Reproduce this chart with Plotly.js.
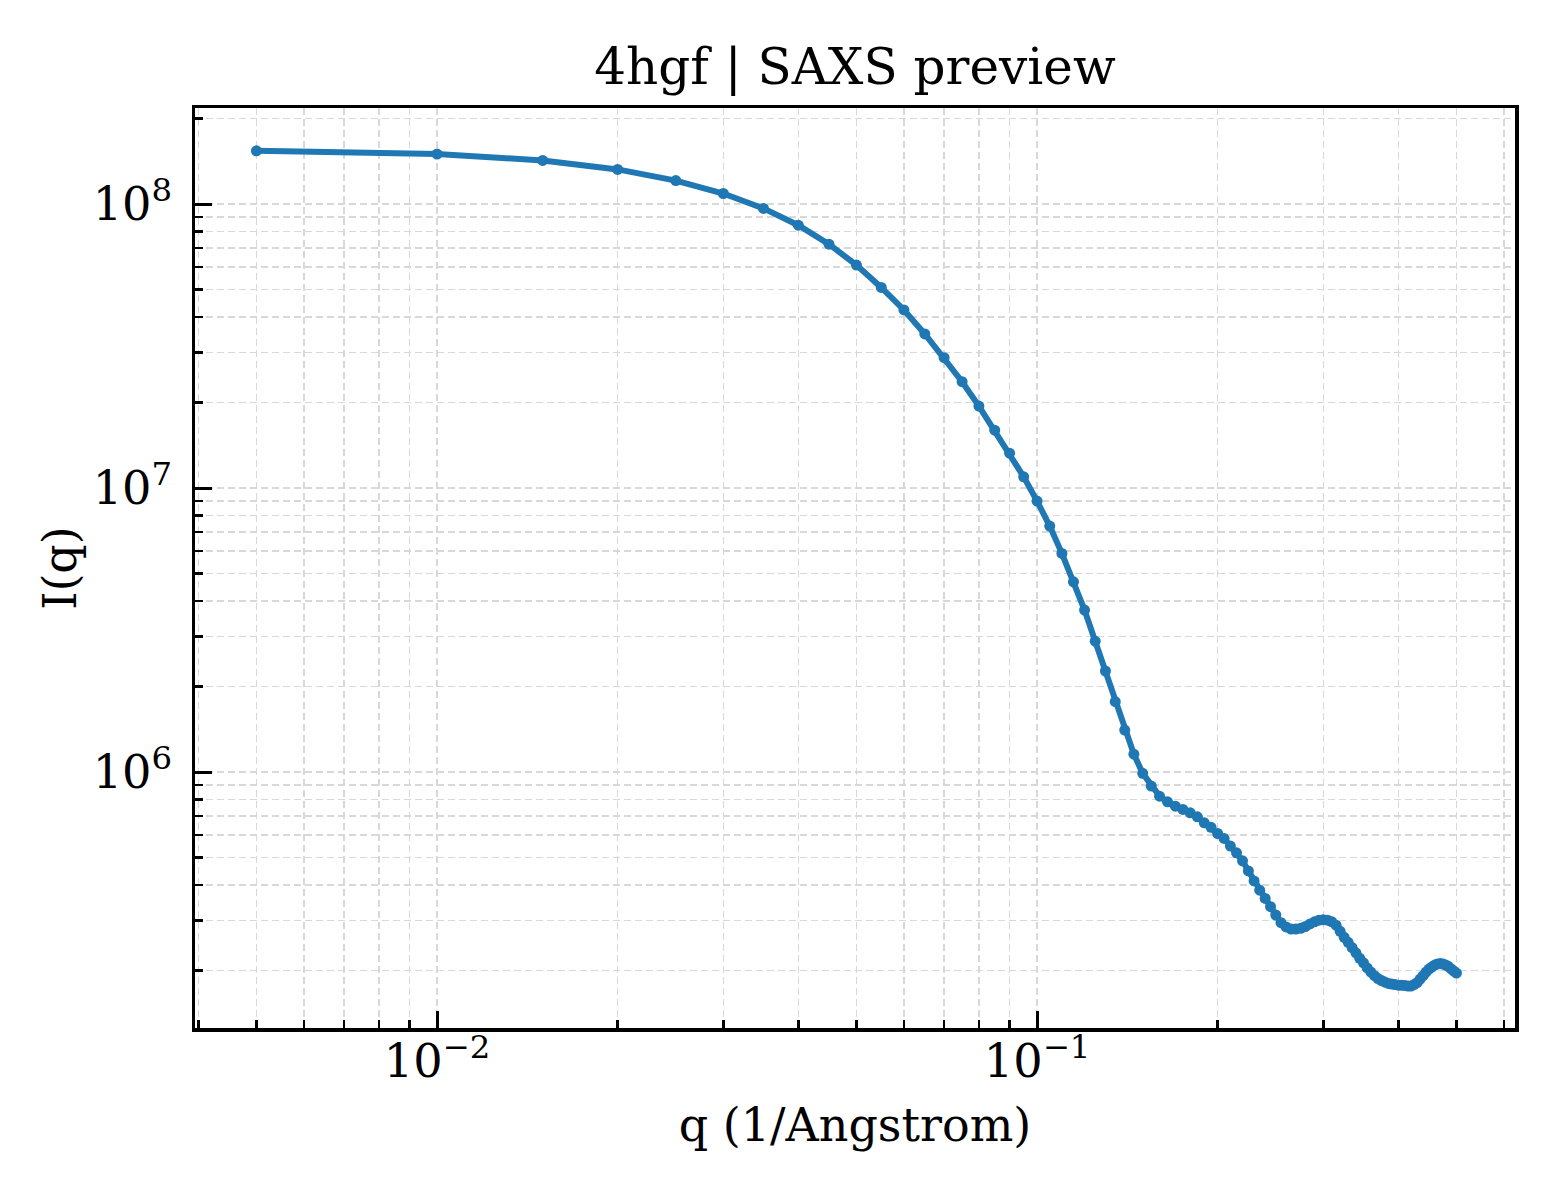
<!DOCTYPE html>
<html>
<head>
<meta charset="utf-8">
<script src="https://cdn.plot.ly/plotly-3.0.1.min.js"></script>
<style>
  body { margin: 0; background: #fff; }
  #saxs { width: 1560px; height: 1200px; }
</style>
</head>
<body>
<div id="saxs"></div>
<script>
// scattering vector q (1/Angstrom)
const qValues = [
  0.005, 0.010, 0.015, 0.020, 0.025, 0.030, 0.035, 0.040, 0.045, 0.050,
  0.055, 0.060, 0.065, 0.070, 0.075, 0.080, 0.085, 0.090, 0.095, 0.100,
  0.105, 0.110, 0.115, 0.120, 0.125, 0.130, 0.135, 0.140, 0.145, 0.150,
  0.155, 0.160, 0.165, 0.170, 0.175, 0.180, 0.185, 0.190, 0.195, 0.200,
  0.205, 0.210, 0.215, 0.220, 0.225, 0.230, 0.235, 0.240, 0.245, 0.250,
  0.255, 0.260, 0.265, 0.270, 0.275, 0.280, 0.285, 0.290, 0.295, 0.300,
  0.305, 0.310, 0.315, 0.320, 0.325, 0.330, 0.335, 0.340, 0.345, 0.350,
  0.355, 0.360, 0.365, 0.370, 0.375, 0.380, 0.385, 0.390, 0.395, 0.400,
  0.405, 0.410, 0.415, 0.420, 0.425, 0.430, 0.435, 0.440, 0.445, 0.450,
  0.455, 0.460, 0.465, 0.470, 0.475, 0.480, 0.485, 0.490, 0.495, 0.500
];

// intensity I(q)
const intensity = [
  1.54e8, 1.50e8, 1.425e8, 1.325e8, 1.21e8, 1.09e8, 9.66e7, 8.43e7, 7.23e7, 6.10e7,
  5.09e7, 4.24e7, 3.49e7, 2.88e7, 2.37e7, 1.945e7, 1.60e7, 1.328e7, 1.096e7, 9.0e6,
  7.35e6, 5.89e6, 4.68e6, 3.72e6, 2.89e6, 2.27e6, 1.77e6, 1.406e6, 1.157e6, 9.9e5,
  8.93e5, 8.23e5, 7.86e5, 7.59e5, 7.39e5, 7.19e5, 6.96e5, 6.63e5, 6.39e5, 6.08e5,
  5.84e5, 5.49e5, 5.20e5, 4.87e5, 4.49e5, 4.14e5, 3.84e5, 3.59e5, 3.36e5, 3.14e5,
  2.95e5, 2.85e5, 2.80e5, 2.80e5, 2.82e5, 2.86e5, 2.92e5, 2.97e5, 3.01e5, 3.02e5,
  3.01e5, 2.97e5, 2.89e5, 2.75e5, 2.62e5, 2.515e5, 2.41e5, 2.31e5, 2.21e5, 2.13e5,
  2.045e5, 1.976e5, 1.92e5, 1.875e5, 1.845e5, 1.823e5, 1.803e5, 1.793e5, 1.786e5, 1.778e5,
  1.776e5, 1.773e5, 1.765e5, 1.764e5, 1.786e5, 1.815e5, 1.867e5, 1.92e5, 1.976e5, 2.025e5,
  2.058e5, 2.092e5, 2.112e5, 2.117e5, 2.109e5, 2.092e5, 2.066e5, 2.028e5, 1.992e5, 1.96e5
];

const xRange = [0.00395, 0.626];
const yRange = [1.256e5, 2.18e8];

const FONT = "DejaVu Serif, Liberation Serif, serif";
const GRID = "#d8d8d8";

function axisStyle(range) {
  return {
    type: 'log',
    range: [Math.log10(range[0]), Math.log10(range[1])],
    dtick: 1,
    exponentformat: 'power',
    showline: true,
    mirror: true,
    linecolor: '#000',
    linewidth: 3.5,
    ticks: 'inside',
    ticklen: 17,
    tickwidth: 3,
    tickcolor: '#000',
    tickfont: {family: FONT, size: 37, color: '#000'},
    showgrid: true,
    gridcolor: GRID,
    gridwidth: 1.5,
    griddash: '7px,4px',
    zeroline: false,
    minor: {
      dtick: 'D1',
      ticks: 'inside',
      ticklen: 8,
      tickwidth: 2.5,
      tickcolor: '#000',
      showgrid: true,
      gridcolor: GRID,
      gridwidth: 1.5,
      griddash: '7px,4px'
    }
  };
}

function init() {
  let curve = {
    x: qValues,
    y: intensity,
    mode: 'lines+markers',
    type: 'scatter',
    line: {color: '#1f77b4', width: 6},
    marker: {color: '#1f77b4', size: 11}
  };

  let xaxis = axisStyle(xRange);
  xaxis.title = {text: 'q (1/Angstrom)', font: {family: FONT, size: 46, color: '#000'}, standoff: 22};
  xaxis.ticklabelstandoff = -8;

  let yaxis = axisStyle(yRange);
  yaxis.title = {text: 'I(q)', font: {family: FONT, size: 46, color: '#000'}, standoff: 2};
  yaxis.ticklabelstandoff = 12;

  let layout = {
    width: 1560,
    height: 1200,
    margin: {l: 195, r: 45, t: 108, b: 172},
    paper_bgcolor: '#fff',
    plot_bgcolor: '#fff',
    showlegend: false,
    title: {
      text: '4hgf | SAXS preview',
      font: {family: FONT, size: 50, color: '#000'},
      x: 0.5,
      xref: 'paper',
      y: 0.945,
      yanchor: 'middle'
    },
    xaxis: xaxis,
    yaxis: yaxis
  };

  Plotly.newPlot('saxs', [curve], layout, {displayModeBar: false, staticPlot: true});
}

window.addEventListener('load', init);
</script>
</body>
</html>
